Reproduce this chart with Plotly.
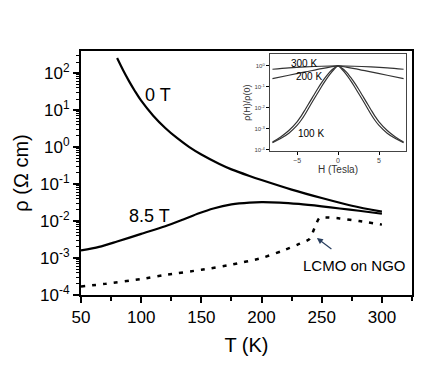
import plotly.graph_objects as go

# main panel: resistivity vs temperature
t_0T = [80, 85, 90, 95, 100, 110, 120, 130, 140, 150, 165, 175, 190, 200, 225, 250, 275, 300]
rho_0T = [257, 120, 60, 32, 18, 7.1, 3.3, 1.74, 1.0, 0.63, 0.35, 0.25, 0.166, 0.129, 0.071,
          0.042, 0.026, 0.018]

t_85T = [50, 65, 80, 100, 120, 135, 148, 160, 175, 190, 200, 215, 231, 250, 265, 281, 300]
rho_85T = [0.0016, 0.002, 0.0028, 0.0045, 0.0072, 0.011, 0.0162, 0.0219, 0.0282, 0.0316, 0.0324,
           0.0316, 0.029, 0.025, 0.0219, 0.019, 0.0158]

t_ngo = [50, 70, 100, 120, 150, 175, 200, 217, 230, 240, 244, 248, 255, 265, 281, 300]
rho_ngo = [1.7e-4, 2.0e-4, 2.7e-4, 3.5e-4, 4.8e-4, 6.6e-4, 1.0e-3, 1.55e-3, 2.3e-3, 3.3e-3,
           6.5e-3, 0.012, 0.0125, 0.0118, 0.010, 0.008]

# inset: magnetoresistance rho(H)/rho(0)
h_300 = [-8, -6, -4, -2, 0, 2, 4, 6, 8]
mr_300 = [0.70, 0.81, 0.90, 0.97, 1.0, 0.97, 0.90, 0.81, 0.70]
h_200 = [-8, -6, -4, -2, -1, 0, 1, 2, 4, 6, 8]
mr_200 = [0.25, 0.36, 0.52, 0.75, 0.88, 1.0, 0.88, 0.75, 0.52, 0.36, 0.25]
h_100 = [-8, -7, -6, -5, -4.5, -4, -3.5, -3, -2.5, -2, -1.5, -1, -0.5, 0,
         0.5, 1, 1.5, 2, 2.5, 3, 3.5, 4, 4.5, 5, 6, 7, 8]
mr_100a = [0.00022, 0.00035, 0.00063, 0.00148, 0.0026, 0.0052, 0.0112, 0.024, 0.050, 0.105,
           0.21, 0.40, 0.68, 1.0, 0.68, 0.40, 0.21, 0.105, 0.050, 0.024, 0.0112, 0.0052,
           0.0026, 0.00148, 0.00063, 0.00035, 0.00022]
mr_100b = [0.00024, 0.00042, 0.00085, 0.0022, 0.0041, 0.0085, 0.018, 0.038, 0.08, 0.16,
           0.30, 0.52, 0.78, 1.0, 0.78, 0.52, 0.30, 0.16, 0.08, 0.038, 0.018, 0.0085,
           0.0041, 0.0022, 0.00085, 0.00042, 0.00024]

FONT = "Arial, Liberation Sans, sans-serif"

fig = go.Figure()
fig.add_trace(go.Scatter(x=t_0T, y=rho_0T, mode="lines",
                         line=dict(color="black", width=2.2, shape="spline", smoothing=0.8)))
fig.add_trace(go.Scatter(x=t_85T, y=rho_85T, mode="lines",
                         line=dict(color="black", width=2.2, shape="spline", smoothing=0.8)))
fig.add_trace(go.Scatter(x=t_ngo, y=rho_ngo, mode="lines",
                         line=dict(color="black", width=2.5, dash="4px,7px", shape="spline", smoothing=0.6)))

for h, mr in [(h_300, mr_300), (h_200, mr_200), (h_100, mr_100a), (h_100, mr_100b)]:
    fig.add_trace(go.Scatter(x=h, y=mr, mode="lines", xaxis="x2", yaxis="y2",
                             line=dict(color="#333333", width=1.2, shape="spline")))

ytick_vals = [10.0 ** k for k in range(-4, 3)]
ytick_text = ["10<sup>%d</sup>" % k for k in range(-4, 3)]
in_vals = [10.0 ** k for k in range(-4, 1)]
in_text = ["10<sup>%d</sup>" % k for k in range(-4, 1)]

fig.update_layout(
    width=436, height=382,
    margin=dict(l=73, r=32, t=43, b=95),
    paper_bgcolor="white", plot_bgcolor="white",
    showlegend=False,
    font=dict(family=FONT, color="black"),
    xaxis=dict(range=[50, 325], tickvals=[50, 100, 150, 200, 250, 300],
               ticks="outside", ticklen=6, tickwidth=1.5, tickcolor="black",
               minor=dict(ticks="outside", ticklen=4, tickwidth=1.5, dtick=25, tickcolor="black"),
               showline=True, linecolor="black", linewidth=2, mirror=True,
               showgrid=False, zeroline=False, tickfont=dict(size=17),
               title=dict(text="T (K)", font=dict(size=20), standoff=12)),
    yaxis=dict(type="log", range=[-4, 2.6], tickvals=ytick_vals, ticktext=ytick_text,
               ticks="outside", ticklen=6, tickwidth=1.5, tickcolor="black",
               minor=dict(ticks="outside", ticklen=3, tickwidth=1, tickcolor="black", dtick="D1"),
               showline=True, linecolor="black", linewidth=2, mirror=True,
               showgrid=False, zeroline=False, tickfont=dict(size=17),
               title=dict(text="ρ (Ω cm)", font=dict(size=20), standoff=6)),
    xaxis2=dict(domain=[0.571, 0.982], anchor="y2", range=[-8.3, 8.3], tickvals=[-5, 0, 5],
                ticks="outside", ticklen=3, tickcolor="black",
                showline=True, linecolor="#444444", linewidth=1, mirror=True,
                showgrid=False, zeroline=False, tickfont=dict(size=7, color="#444444"),
                title=dict(text="H (Tesla)", font=dict(size=10, color="#333333"), standoff=2)),
    yaxis2=dict(domain=[0.59, 0.986], anchor="x2", type="log", range=[-4.05, 0.55],
                tickvals=in_vals, ticktext=in_text,
                ticks="outside", ticklen=3, tickcolor="black",
                showline=True, linecolor="#444444", linewidth=1, mirror=True,
                showgrid=False, zeroline=False, tickfont=dict(size=6, color="#444444"),
                title=dict(text="ρ(H)/ρ(0)", font=dict(size=9, color="#333333"), standoff=2)),
)

fig.add_annotation(x=114, y=1.4, text="0 T", showarrow=False, font=dict(size=18))
fig.add_annotation(x=107, y=-1.86, text="8.5 T", showarrow=False, font=dict(size=18))
fig.add_annotation(x=277, y=-3.2, text="LCMO on NGO", showarrow=False, font=dict(size=15))
fig.add_annotation(x=246, y=-2.46, text="", showarrow=True, arrowhead=2, arrowsize=1,
                   arrowwidth=1.2, ax=16, ay=12, standoff=0)

fig.add_annotation(x=-4.2, y=0.12, xref="x2", yref="y2", text="300 K", showarrow=False,
                   font=dict(size=10))
fig.add_annotation(x=-3.6, y=-0.5, xref="x2", yref="y2", text="200 K", showarrow=False,
                   font=dict(size=10))
fig.add_annotation(x=-3.3, y=-3.2, xref="x2", yref="y2", text="100 K", showarrow=False,
                   font=dict(size=10))

fig.write_html("out.html")
